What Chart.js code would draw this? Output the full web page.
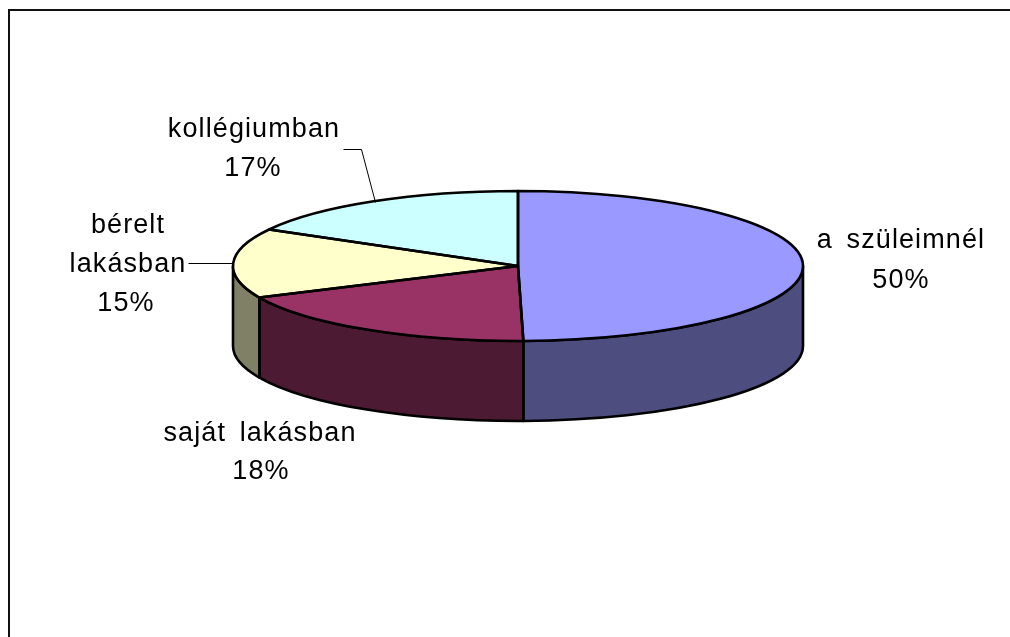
<!DOCTYPE html>
<html><head><meta charset="utf-8">
<style>html,body{margin:0;padding:0;background:#fff}canvas{display:block}#w{width:1010px;height:637px}</style>
<script src="https://cdn.jsdelivr.net/npm/chart.js@4"></script></head>
<body><div id="w"><canvas id="c"></canvas></div>
<script>
const categories = ['a szüleimnél','saját lakásban','bérelt lakásban','kollégiumban'];
const values = [49.7, 18.4, 15.0, 16.9];
const percentLabels = ['50%','18%','15%','17%'];
const topColors = ['#9999FF','#993366','#FFFFCC','#CCFFFF'];
const sideColors = ['#4D4D80','#4D1A33','#808066','#668080'];

const CX = 518, CY = 266, RY = 75, DEPTH = 80;
const labelLines = [
  [[901,248,categories[0]],[901,288,percentLabels[0]]],
  [[260,441,categories[1]],[261,479,percentLabels[1]]],
  [[128,233,'bérelt'],[128,272,'lakásban'],[126,311,percentLabels[2]]],
  [[254,137,categories[3]],[253,176,percentLabels[3]]]
];
const leaders = [
  [[188,263],[233,263]],
  [[343,149],[361,149],[375,202]]
];

const pie3d = {
  id:'pie3d',
  beforeDatasetsDraw(chart){
    const arcs = chart.getDatasetMeta(0).data, ctx = chart.ctx;
    const a0 = arcs[0], k = RY/a0.outerRadius;
    // side walls: only the part of each arc that faces the viewer
    arcs.forEach((a,i)=>{
      const p = Math.max(a.startAngle,0), q = Math.min(a.endAngle,Math.PI);
      if(q<=p) return;
      const r = a.outerRadius;
      ctx.save();
      ctx.beginPath();
      ctx.ellipse(CX,CY,r,RY,0,p,q);
      ctx.lineTo(CX+r*Math.cos(q),CY+RY*Math.sin(q)+DEPTH);
      ctx.ellipse(CX,CY+DEPTH,r,RY,0,q,p,true);
      ctx.closePath();
      ctx.fillStyle=sideColors[i];ctx.fill();
      ctx.lineWidth=2.6;ctx.strokeStyle='#000';ctx.lineJoin='round';ctx.stroke();
      ctx.restore();
    });
    ctx.save();
    ctx.translate(CX,CY);ctx.scale(1,k);ctx.translate(-a0.x,-a0.y);
  },
  afterDatasetsDraw(chart){
    const ctx = chart.ctx;
    ctx.restore();
    // rim + spokes at uniform stroke width
    const arcs = chart.getDatasetMeta(0).data;
    ctx.save();
    ctx.strokeStyle='#000';ctx.lineWidth=2.6;ctx.lineJoin='round';
    arcs.forEach(a=>{
      ctx.beginPath();
      ctx.moveTo(CX,CY);
      ctx.ellipse(CX,CY,a.outerRadius,RY,0,a.startAngle,a.endAngle);
      ctx.closePath();ctx.stroke();
    });
    ctx.restore();
    // frame
    ctx.save();
    ctx.strokeStyle='#111';ctx.lineWidth=2;
    ctx.beginPath();ctx.moveTo(9,640);ctx.lineTo(9,10);ctx.lineTo(1012,10);ctx.stroke();
    // leaders
    ctx.strokeStyle='#000';ctx.lineWidth=1;
    leaders.forEach(l=>{ctx.beginPath();l.forEach(([x,y],i)=>i?ctx.lineTo(x+.5,y+.5):ctx.moveTo(x+.5,y+.5));ctx.stroke();});
    // labels
    ctx.fillStyle='#000';ctx.font='27px "Liberation Sans", Arial, sans-serif';
    ctx.letterSpacing='1.1px';ctx.wordSpacing='5px';
    ctx.textAlign='center';ctx.textBaseline='alphabetic';
    labelLines.flat().forEach(([x,y,t])=>ctx.fillText(t,x,y));
    ctx.restore();
  }
};

new Chart(document.getElementById('c'),{
  type:'pie',
  data:{labels:categories,datasets:[{data:values,backgroundColor:topColors,borderWidth:0,clip:false}]},
  options:{
    responsive:true,maintainAspectRatio:false,animation:false,rotation:0,
    layout:{padding:{left:233,right:207,top:0,bottom:67}},
    plugins:{legend:{display:false},tooltip:{enabled:false},title:{display:false}}
  },
  plugins:[pie3d]
});
</script></body></html>
